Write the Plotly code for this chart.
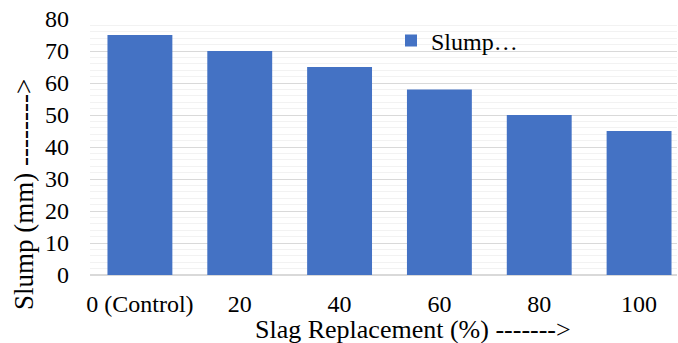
import plotly.graph_objects as go

categories = ["0 (Control)", "20", "40", "60", "80", "100"]
slump = [75, 70, 65, 58, 50, 45]
series_name = "Slump…"
x_title = "Slag Replacement (%) ------->"
y_title = "Slump (mm) -------->"

FONT = "Liberation Serif"

fig = go.Figure()
fig.add_trace(go.Bar(
    x=categories, y=slump, name=series_name,
    marker=dict(color="#4472C4", line=dict(width=0)),
    width=0.65, showlegend=True,
))

fig.update_layout(
    width=678, height=343,
    margin=dict(l=90, r=1, t=19, b=68),
    paper_bgcolor="white", plot_bgcolor="white",
    font=dict(family=FONT, size=24, color="black"),
    showlegend=True,
    legend=dict(x=(391 - 90) / 587, y=(275 - 41) / 256, xanchor="left", yanchor="middle",
                bgcolor="rgba(0,0,0,0)", font=dict(size=24, family=FONT, color="black"),
                itemwidth=30, borderwidth=0),
    xaxis=dict(
        range=[-0.5, 5.38], showgrid=False, showline=False, zeroline=False,
        ticks="", tickfont=dict(size=24, family=FONT, color="black"),
        ticklabelstandoff=12,
    ),
    yaxis=dict(
        range=[0, 80], dtick=10, showgrid=True, gridcolor="#D9D9D9", gridwidth=1,
        zeroline=True, zerolinecolor="#D9D9D9", zerolinewidth=1.5,
        showline=False, ticks="", tickfont=dict(size=24, family=FONT, color="black"),
        ticklabelstandoff=20,
        minor=dict(dtick=2, showgrid=True, gridcolor="#F2F2F2", gridwidth=1),
    ),
    annotations=[
        dict(text=x_title, xref="paper", yref="paper",
             x=(413 - 90) / 587, y=(275 - 329) / 256, xanchor="center", yanchor="middle",
             showarrow=False, font=dict(size=26, family=FONT, color="black")),
        dict(text=y_title, xref="paper", yref="paper", textangle=-90,
             x=(24 - 90) / 587, y=(275 - 195) / 256, xanchor="center", yanchor="middle",
             showarrow=False, font=dict(size=27, family=FONT, color="black")),
    ],
)

fig.write_html("out.html")
